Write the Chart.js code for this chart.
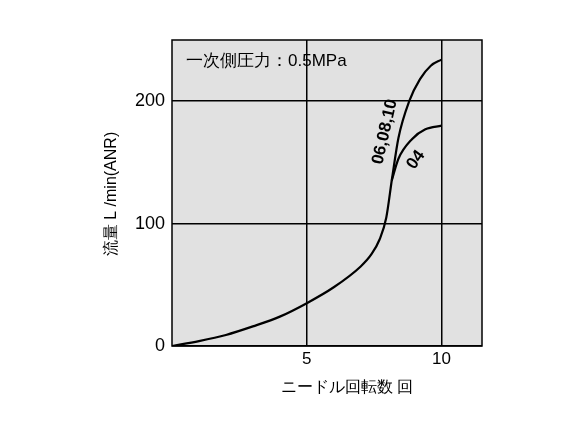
<!DOCTYPE html>
<html><head><meta charset="utf-8">
<script src="https://cdn.jsdelivr.net/npm/chart.js@4"></script>
<style>body{margin:0;background:#fff}#w{width:583px;height:437px}</style>
</head><body><div id="w"><canvas id="c"></canvas></div>
<script>
const commonX=[0,1,2,3,4,5,6,7,7.4,7.7,7.95,8.15];
const commonY=[0,4,9,16,24,35,48,65,75,87,105,135];
const upperX=[8.15,8.4,8.8,9.2,9.6,10];
const upperY=[135,170,200,218,229,234];
const lowerX=[8.15,8.4,8.9,9.4,10];
const lowerY=[135,153,169,177,180];
const xTicks=[5,10];
const yTicks=[0,100,200];
const pts=(xs,ys)=>xs.map((x,i)=>({x,y:ys[i]}));
const ds=(d)=>({data:d,borderColor:'#000',borderWidth:2.2,pointRadius:0,cubicInterpolationMode:'monotone',showLine:true,fill:false});
const font='Arial, "Liberation Sans", sans-serif';
const deco={id:'deco',
 beforeDraw(ch){const a=ch.chartArea,c=ch.ctx;c.save();c.fillStyle='#e1e1e1';c.fillRect(a.left,a.top,a.right-a.left,a.bottom-a.top);c.restore();},
 afterDraw(ch){const a=ch.chartArea,c=ch.ctx,x=ch.scales.x,y=ch.scales.y;c.save();
 c.strokeStyle='#000';c.lineWidth=1.5;c.strokeRect(a.left,a.top,a.right-a.left,a.bottom-a.top);
 c.fillStyle='#000';c.font='17px '+font;c.textBaseline='middle';c.textAlign='left';
 c.fillText('一次側圧力：0.5MPa',a.left+14,a.top+21);
 c.textAlign='center';c.font='16px '+font;
 c.fillText('ニードル回転数 回',(a.left+a.right)/2+20,388);
 c.save();c.translate(112,194);c.rotate(-Math.PI/2);c.fillText('流量 L /min(ANR)',0,0);c.restore();
 c.font='bold 17px '+font;
 c.save();c.translate(x.getPixelForValue(7.9),y.getPixelForValue(175));c.rotate(-1.35);c.fillText('06,08,10',0,0);c.restore();
 c.save();c.translate(x.getPixelForValue(9.05),y.getPixelForValue(152));c.rotate(-0.95);c.fillText('04',0,0);c.restore();
 c.restore();}};
new Chart(document.getElementById('c'),{type:'scatter',
 data:{datasets:[ds(pts(commonX,commonY)),ds(pts(upperX,upperY)),ds(pts(lowerX,lowerY))]},
 options:{responsive:true,maintainAspectRatio:false,animation:false,
  layout:{padding:{left:0,right:101,top:40,bottom:0}},
  plugins:{legend:{display:false},tooltip:{enabled:false}},
  scales:{
   x:{type:'linear',min:0,max:11.5,afterBuildTicks:s=>{s.ticks=xTicks.map(v=>({value:v}))},
      afterFit:s=>{s.height=91},
      grid:{color:'#000',lineWidth:1.5,drawTicks:false},border:{display:false},
      ticks:{color:'#000',font:{size:17,family:font},padding:3}},
   y:{min:0,max:250,afterBuildTicks:s=>{s.ticks=yTicks.map(v=>({value:v}))},
      afterFit:s=>{s.width=172},
      grid:{color:'#000',lineWidth:1.5,drawTicks:false},border:{display:false},
      ticks:{color:'#000',font:{size:18,family:font},padding:7}}
  }},plugins:[deco]});
</script></body></html>
